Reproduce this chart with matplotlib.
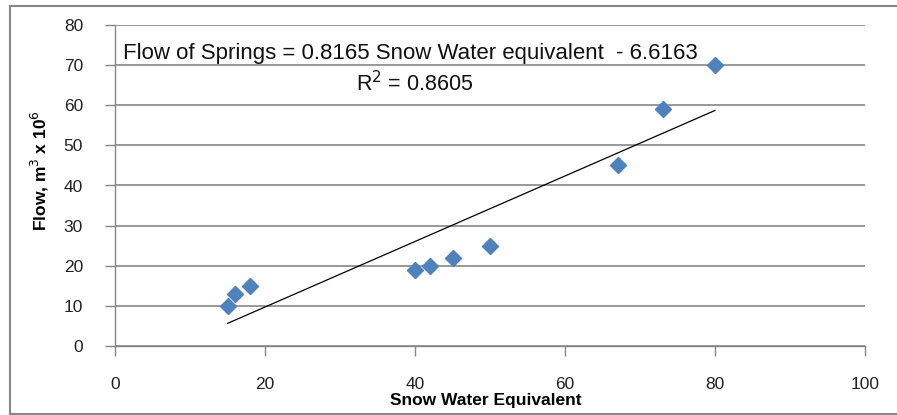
import matplotlib
matplotlib.use("Agg")
import matplotlib.pyplot as plt
import numpy as np
from matplotlib.lines import Line2D

snow_water = [15, 16, 18, 40, 42, 45, 50, 67, 73, 80]
flow = [10, 13, 15, 19, 20, 22, 25, 45, 59, 70]
slope = 0.8165
intercept = -6.6163
r_squared = 0.8605
x_ticks = [0, 20, 40, 60, 80, 100]
y_ticks = [0, 10, 20, 30, 40, 50, 60, 70, 80]

plt.rcParams['font.family'] = ['Liberation Sans', 'DejaVu Sans']

W, H = 897, 415
fig = plt.figure(figsize=(W / 100, H / 100), dpi=100)
ax = fig.add_axes([115 / W, 1 - 346 / H, 750 / W, 321 / H])

grid_c = '#868686'
ax.set_xlim(0, 100)
ax.set_ylim(0, 80)
ax.set_xticks(x_ticks)
ax.set_yticks(y_ticks)
ax.yaxis.grid(True, color=grid_c, linewidth=1.2)
ax.set_axisbelow(True)
for s in ['top', 'right']:
    ax.spines[s].set_visible(False)
for s in ['left', 'bottom']:
    ax.spines[s].set_color(grid_c)
    ax.spines[s].set_linewidth(1.0)
ax.tick_params(axis='both', direction='out', color=grid_c, length=7, width=1,
               labelsize=12.5, labelcolor='#222222')
ax.tick_params(axis='x', pad=15)
ax.tick_params(axis='y', pad=16)

ax.plot(snow_water, flow, linestyle='none', marker='D', markersize=8.6,
        color='#4F81BD', markeredgecolor='#4F81BD', zorder=3)

xf = np.array([min(snow_water), max(snow_water)])
ax.plot(xf, slope * xf + intercept, color='black', linewidth=0.9, zorder=4)

fig.text(123 / W, 1 - 53 / H,
         'Flow of Springs = %.4f Snow Water equivalent  - %.4f' % (slope, -intercept),
         fontsize=16, ha='left', va='center', color='#111111')
fig.text(415 / W, 1 - 84 / H, 'R$^2$ = %.4f' % r_squared,
         fontsize=15.5, ha='center', va='center', color='#111111')

fig.text(486 / W, 1 - 400 / H, 'Snow Water Equivalent', fontsize=12.5,
         fontweight='bold', ha='center', va='center')
fig.text(40 / W, 1 - 171 / H, 'Flow, m$^3$ x 10$^6$', fontsize=12.5,
         fontweight='bold', ha='center', va='center', rotation=90)

# chart frame
fc = '#888888'
fig.add_artist(Line2D([10 / W, 10 / W], [1 - 6 / H, 1 - 414 / H], color=fc, lw=1.5, transform=fig.transFigure))
fig.add_artist(Line2D([10 / W, 1], [1 - 6 / H, 1 - 6 / H], color=fc, lw=1.5, transform=fig.transFigure))
fig.add_artist(Line2D([10 / W, 1], [1 - 414 / H, 1 - 414 / H], color=fc, lw=1.5, transform=fig.transFigure))

fig.savefig('out.png', dpi=100)
